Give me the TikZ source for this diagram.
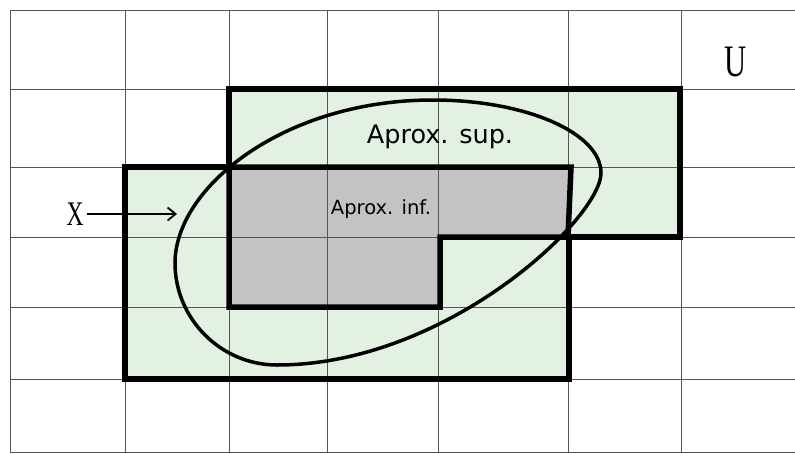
\documentclass[tikz,border=0pt]{standalone}
\usepackage{fontspec}
\setsansfont{DejaVu Sans}
\newfontfamily\letterfont{Liberation Serif}
\usepackage{tikz}
\usetikzlibrary{arrows.meta}
\definecolor{supgreen}{HTML}{E3F1E3}
\definecolor{infgray}{HTML}{C3C3C3}
\definecolor{gridgray}{HTML}{555555}

\begin{document}
\begin{tikzpicture}[x=1pt, y=-1pt,
	gridline/.style={color=gridgray, line width=0.9pt},
	approx/.style={color=black, line width=5.5pt, line join=miter},
	setlabel/.style={anchor=center, color=black}]
	\useasboundingbox (0,0) rectangle (795,453);
	
	\fill[color=supgreen]
		(229,89) -- (680,89) -- (680,237) -- (569,237) -- (569,379)
		-- (125,379) -- (125,167) -- (229,167) -- cycle;
	\fill[color=infgray]
		(229,167) -- (571,167) -- (568,237) -- (440,237) -- (440,307)
		-- (229,307) -- cycle;
	
	\foreach \x in {10,125,229,327,438,568,681}{
		\draw[gridline]
			(\x,10) -- (\x,452);
	}
	\foreach \y in {10,89,167,237,307,379,452}{
		\draw[gridline]
			(10,\y) -- (795,\y);
	}
	
	\draw[approx]
		(229,89) -- (680,89) -- (680,237) -- (569,237) -- (569,379)
		-- (125,379) -- (125,167) -- (229,167) -- cycle;
	\draw[approx]
		(229,167) -- (571,167) -- (568,237) -- (440,237) -- (440,307)
		-- (229,307) -- cycle;
	
	\draw[color=black, line width=3.5pt]
		(433,100) .. controls (526,100) and (601,133) .. (601,173)
		.. controls (601,218) and (447,365) .. (277,365)
		.. controls (221,365) and (175,319) .. (175,263)
		.. controls (175,188) and (283,100) .. cycle;
	
	\node[setlabel, font=\sffamily\fontsize{25.5}{30}\selectfont] (sup)
		at (440,137) {Aprox. sup.};
	\node[setlabel, font=\sffamily\fontsize{19.5}{24}\selectfont] (inf)
		at (381,209) {Aprox. inf.};
	\node[setlabel, font=\letterfont\fontsize{34.5}{40}\selectfont] (setx)
		at (75,214) {\scalebox{0.68}[1]{X}};
	\node[setlabel, font=\letterfont\fontsize{45}{50}\selectfont] (univ)
		at (736,62) {\scalebox{0.68}[1]{U}};
	
	\coordinate (tip) at (177,214);
	\draw[color=black, line width=1.8pt, -{Straight Barb[length=8pt, width=13pt]}]
		(setx) -- (tip);
\end{tikzpicture}
\end{document}
